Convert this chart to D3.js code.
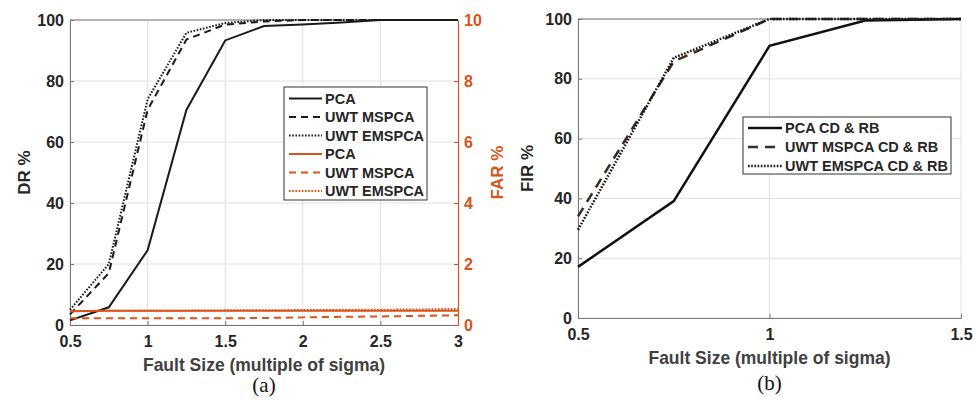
<!DOCTYPE html>
<html>
<head>
<meta charset="utf-8">
<script src="https://cdn.jsdelivr.net/npm/d3@7"></script>
<style>
  body { margin: 0; background: #fff; }
  svg text { font-family: "Liberation Sans", Arial, sans-serif; font-weight: bold; }
</style>
</head>
<body>
<div id="chart"></div>
<script>
// ---- data (a): detection rate / false alarm rate
const faultA = [0.5, 0.75, 1, 1.25, 1.5, 1.75, 2, 2.25, 2.5, 2.75, 3]
const drPCA = [1.5, 5.8, 24.5, 70.5, 93.3, 98, 98.5, 99.2, 100, 100, 100]
const drMSPCA = [3.5, 17, 70.5, 93.6, 98.5, 99.5, 100, 100, 100, 100, 100]
const drEMSPCA = [5, 20, 74, 95.8, 99, 100, 100, 100, 100, 100, 100]
const farPCA = [0.45, 0.47, 0.47, 0.47, 0.47, 0.47, 0.47, 0.47, 0.47, 0.47, 0.47]
const farMSPCA = [0.22, 0.22, 0.22, 0.22, 0.22, 0.23, 0.25, 0.27, 0.28, 0.3, 0.32]
const farEMSPCA = [0.45, 0.47, 0.47, 0.47, 0.48, 0.48, 0.49, 0.5, 0.5, 0.51, 0.53]
const xTicksA = [0.5, 1, 1.5, 2, 2.5, 3]
const yTicksDR = [0, 20, 40, 60, 80, 100]
const yTicksFAR = [0, 2, 4, 6, 8, 10]

// ---- data (b): fault isolation rate
const faultB = [0.5, 0.75, 1, 1.25, 1.5]
const firPCA = [17.1, 39.1, 91, 99.5, 100]
const firMSPCA = [34, 85.8, 100, 100, 100]
const firEMSPCA = [29.5, 87, 100, 100, 100]
const xTicksB = [0.5, 1, 1.5]
const yTicksFIR = [0, 20, 40, 60, 80, 100]

const ORANGE = '#d95319'
const GRID = '#e0e0e0'
const AXIS = '#777'

const svg = d3.select('#chart').append('svg')
  .attr('width', 979)
  .attr('height', 403)

const dashes = { solid: null, dashed: '7,5', longdash: '10,7', dotted: '1.6,1.6' }

function drawPanel(opt) {
  const g = svg.append('g')
  const x = d3.scaleLinear().domain(opt.xDomain).range([opt.left, opt.right])
  const y = d3.scaleLinear().domain([0, 100]).range([opt.bottom, opt.top])

  // grid
  g.selectAll('.vgrid').data(opt.xTicks).enter().append('line')
    .attr('x1', d => x(d)).attr('x2', d => x(d))
    .attr('y1', opt.top).attr('y2', opt.bottom)
    .attr('stroke', GRID).attr('stroke-width', 1)
  g.selectAll('.hgrid').data(opt.yTicks).enter().append('line')
    .attr('x1', opt.left).attr('x2', opt.right)
    .attr('y1', d => y(d)).attr('y2', d => y(d))
    .attr('stroke', GRID).attr('stroke-width', 1)

  // axes
  const xAxis = g.append('g')
    .attr('transform', `translate(0, ${opt.bottom})`)
    .call(d3.axisBottom(x).tickValues(opt.xTicks).tickSize(-4).tickPadding(8).tickFormat(d3.format('')))
  const yAxis = g.append('g')
    .attr('transform', `translate(${opt.left}, 0)`)
    .call(d3.axisLeft(y).tickValues(opt.yTicks).tickSize(-4).tickPadding(6))
  ;[xAxis, yAxis].forEach(a => {
    a.select('.domain').attr('stroke', AXIS)
    a.selectAll('.tick line').attr('stroke', AXIS)
    a.selectAll('text').attr('font-size', 16).attr('fill', '#262626')
  })
  xAxis.selectAll('text').attr('dy', '0.85em')

  // top box edge
  g.append('line')
    .attr('x1', opt.left).attr('x2', opt.right)
    .attr('y1', opt.top).attr('y2', opt.top)
    .attr('stroke', AXIS)

  g.append('text')
    .attr('x', (opt.left + opt.right) / 2)
    .attr('y', opt.bottom + 46)
    .attr('text-anchor', 'middle')
    .attr('font-size', 17.5)
    .attr('fill', '#404040')
    .text('Fault Size (multiple of sigma)')

  g.append('text')
    .attr('transform', `translate(${opt.yLabelX}, ${(opt.top + opt.bottom) / 2}) rotate(-90)`)
    .attr('text-anchor', 'middle')
    .attr('font-size', 17)
    .attr('fill', '#262626')
    .text(opt.yLabel)

  g.append('text')
    .attr('x', (opt.left + opt.right) / 2)
    .attr('y', opt.captionY)
    .attr('text-anchor', 'middle')
    .style('font-family', '"Liberation Serif", "Times New Roman", serif')
    .style('font-weight', 'normal')
    .attr('font-size', 21)
    .attr('fill', '#111')
    .text(opt.caption)

  return { g, x, y }
}

function drawSeries(g, x, y, xs, ys, color, style, width) {
  const line = d3.line().x((d, i) => x(xs[i])).y(d => y(d))
  g.append('path')
    .datum(ys)
    .attr('d', line)
    .attr('fill', 'none')
    .attr('stroke', color)
    .attr('stroke-width', width)
    .attr('stroke-dasharray', dashes[style])
}

function drawLegend(g, left, top, w, h, rowY, lineX0, lineX1, items) {
  g.append('rect')
    .attr('x', left).attr('y', top)
    .attr('width', w).attr('height', h)
    .attr('fill', '#fff').attr('stroke', '#333').attr('stroke-width', 1)
  items.forEach((it, i) => {
    const yy = top + rowY[i]
    g.append('line')
      .attr('x1', lineX0).attr('x2', lineX1)
      .attr('y1', yy).attr('y2', yy)
      .attr('stroke', it.color).attr('stroke-width', it.width)
      .attr('stroke-dasharray', dashes[it.style])
    g.append('text')
      .attr('x', lineX1 + 3).attr('y', yy)
      .attr('dy', '0.36em')
      .attr('font-size', 14.5)
      .attr('fill', '#262626')
      .text(it.label)
  })
}

// ---------- panel (a)
const A = drawPanel({
  left: 70, right: 458, top: 20, bottom: 325,
  xDomain: [0.5, 3], xTicks: xTicksA, yTicks: yTicksDR,
  yLabel: 'DR %', yLabelX: 30, caption: '(a)', captionY: 392
})

// right FAR axis
const yFar = d3.scaleLinear().domain([0, 10]).range([325, 20])
const farAxis = A.g.append('g')
  .attr('transform', 'translate(458, 0)')
  .call(d3.axisRight(yFar).tickValues(yTicksFAR).tickSize(-4).tickPadding(6))
farAxis.select('.domain').attr('stroke', ORANGE)
farAxis.selectAll('.tick line').attr('stroke', ORANGE)
farAxis.selectAll('text').attr('font-size', 16).attr('fill', ORANGE)
A.g.append('text')
  .attr('transform', `translate(503, ${(20 + 325) / 2}) rotate(-90)`)
  .attr('text-anchor', 'middle')
  .attr('font-size', 17)
  .attr('fill', ORANGE)
  .text('FAR %')

drawSeries(A.g, A.x, A.y, faultA, drPCA, '#1a1a1a', 'solid', 2)
drawSeries(A.g, A.x, A.y, faultA, drMSPCA, '#1a1a1a', 'dashed', 2)
drawSeries(A.g, A.x, A.y, faultA, drEMSPCA, '#1a1a1a', 'dotted', 2)
drawSeries(A.g, A.x, yFar, faultA, farPCA, ORANGE, 'solid', 2)
drawSeries(A.g, A.x, yFar, faultA, farMSPCA, ORANGE, 'dashed', 2)
drawSeries(A.g, A.x, yFar, faultA, farEMSPCA, ORANGE, 'dotted', 2)

drawLegend(A.g, 284, 87, 143, 113, [11.5, 30, 48.5, 67, 85.5, 104], 289, 322, [
  { label: 'PCA', color: '#1a1a1a', style: 'solid', width: 2 },
  { label: 'UWT MSPCA', color: '#1a1a1a', style: 'dashed', width: 2 },
  { label: 'UWT EMSPCA', color: '#1a1a1a', style: 'dotted', width: 2 },
  { label: 'PCA', color: ORANGE, style: 'solid', width: 2 },
  { label: 'UWT MSPCA', color: ORANGE, style: 'dashed', width: 2 },
  { label: 'UWT EMSPCA', color: ORANGE, style: 'dotted', width: 2 }
])

// ---------- panel (b)
const B = drawPanel({
  left: 578, right: 961, top: 19, bottom: 318,
  xDomain: [0.5, 1.5], xTicks: xTicksB, yTicks: yTicksFIR,
  yLabel: 'FIR %', yLabelX: 533, caption: '(b)', captionY: 390
})
drawSeries(B.g, B.x, B.y, faultB, firPCA, '#111', 'solid', 2.5)
drawSeries(B.g, B.x, B.y, faultB, firMSPCA, '#3a2a20', 'longdash', 2.5)
drawSeries(B.g, B.x, B.y, faultB, firEMSPCA, '#111', 'dotted', 2.5)

drawLegend(B.g, 743, 117, 208, 57, [11, 30, 49], 748, 782, [
  { label: 'PCA CD & RB', color: '#111', style: 'solid', width: 2.5 },
  { label: 'UWT MSPCA CD & RB', color: '#3a2a20', style: 'longdash', width: 2.5 },
  { label: 'UWT EMSPCA CD & RB', color: '#111', style: 'dotted', width: 2.5 }
])
</script>
</body>
</html>
